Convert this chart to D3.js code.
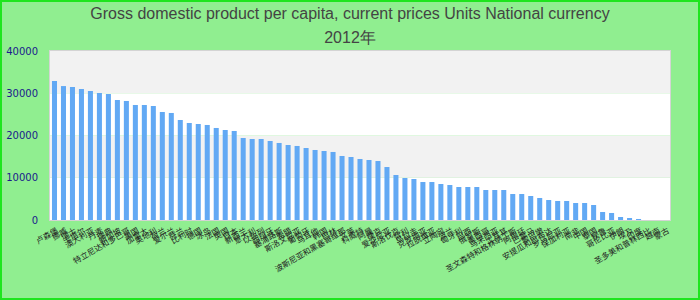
<!DOCTYPE html>
<html>
<head>
<meta charset="utf-8">
<script src="https://cdn.jsdelivr.net/npm/d3@7"></script>
<style>
  body { margin: 0; background: #fff; }
  svg { display: block; }
</style>
</head>
<body>
<div id="chart"></div>
<script>
(function () {
	'use strict';

	var titleLines = ["Gross domestic product per capita, current prices Units National currency", "2012年"];

	var categories = [
		"卢森堡", "挪威", "瑞士", "卡塔尔", "澳大利亚", "丹麦", "瑞典", "新加坡", "特立尼达和多巴哥", "美国",
		"加拿大", "奥地利", "荷兰", "爱尔兰", "芬兰", "比利时", "德国", "冰岛", "法国", "英国",
		"日本", "新西兰", "意大利", "以色列", "西班牙", "塞浦路斯", "希腊", "斯洛文尼亚", "葡萄牙", "马耳他",
		"韩国", "巴林", "波斯尼亚和黑塞哥维那", "文莱", "科威特", "阿曼", "捷克", "爱沙尼亚", "斯洛伐克", "智利",
		"乌拉圭", "克罗地亚", "拉脱维亚", "立陶宛", "波兰", "匈牙利", "巴西", "俄罗斯", "墨西哥", "马来西亚",
		"土耳其", "圣文森特和格林纳丁斯", "阿根廷", "巴拿马", "黎巴嫩", "安提瓜和巴布达", "罗马尼亚", "保加利亚", "南非", "中国",
		"泰国", "秘鲁", "哥伦比亚", "伊朗", "埃及", "印度", "圣多美和普林西比", "越南", "蒙古"
	];

	var values = [
		32900, 31700, 31480, 31000, 30530, 30060, 29820, 28400, 28170, 27220,
		27220, 26980, 25560, 25330, 23670, 22960, 22720, 22490, 21780, 21300,
		21070, 19410, 19170, 19170, 18700, 18230, 17750, 17520, 17040, 16570,
		16330, 16100, 15150, 14910, 14440, 14200, 13960, 12540, 10650, 9940,
		9700, 8990, 8990, 8520, 8280, 7810, 7810, 7810, 7100, 7100,
		7100, 6150, 6150, 5680, 5210, 4730, 4500, 4500, 4020, 4020,
		3550, 1890, 1660, 710, 470, 240, 0, 0, 0
	];

	var yTicks = [0, 10000, 20000, 30000, 40000];

	var width = 700, height = 300;
	var margin = {top: 51, right: 30, bottom: 80, left: 50};

	var svg = d3.select("#chart")
		.append("svg")
		.attr("width", width)
		.attr("height", height);

	// page background + border
	svg.append("rect")
		.attr("x", 1).attr("y", 1)
		.attr("width", width - 2).attr("height", height - 2)
		.attr("fill", "#90ee90")
		.attr("stroke", "#1ee51e")
		.attr("stroke-width", 2);

	var data = categories.map(function(c, i){ return {name: c, value: values[i]}; });

	var x = d3.scaleBand()
		.domain(categories)
		.range([margin.left, width - margin.right])
		.paddingInner(0.44)
		.paddingOuter(0.22);

	var y = d3.scaleLinear()
		.domain([0, 40000])
		.range([height - margin.bottom, margin.top]);

	// alternating bands
	var bands = d3.pairs(yTicks);
	svg.append("g").selectAll("rect")
		.data(bands)
		.enter()
			.append("rect")
			.attr("x", margin.left)
			.attr("width", width - margin.right - margin.left)
			.attr("y", function(d){ return y(d[1]); })
			.attr("height", function(d){ return y(d[0]) - y(d[1]); })
			.attr("fill", function(d, i){ return i % 2 === 0 ? "#ffffff" : "#f2f2f2"; });

	// plot frame
	svg.append("rect")
		.attr("x", margin.left - 0.5)
		.attr("y", margin.top - 0.5)
		.attr("width", width - margin.right - margin.left + 1)
		.attr("height", height - margin.bottom - margin.top + 1)
		.attr("fill", "none")
		.attr("stroke", "#d4d4d4")
		.attr("stroke-width", 1);

	// bars
	svg.append("g").selectAll("rect")
		.data(data)
		.enter()
			.append("rect")
			.attr("x", function(d){ return x(d.name); })
			.attr("width", x.bandwidth())
			.attr("y", function(d){ return y(d.value); })
			.attr("height", function(d){ return y(0) - y(d.value); })
			.attr("fill", "#62a9f4");

	// y axis
	var yAxis = svg.append("g")
		.attr("transform", "translate(" + margin.left + ",0)")
		.call(d3.axisLeft(y).tickValues(yTicks).tickSize(0).tickPadding(12).tickFormat(d3.format("d")));
	yAxis.select(".domain").remove();
	yAxis.selectAll("text")
		.attr("fill", "#1a1a8c")
		.style("font-family", "DejaVu Sans")
		.style("font-size", "10px");

	// x labels, rotated
	svg.append("g").selectAll("text")
		.data(data)
		.enter()
			.append("text")
			.attr("transform", function(d){
				return "translate(" + (x(d.name) + x.bandwidth() / 2 + 2) + "," + (height - margin.bottom + 8) + ") rotate(-30)";
			})
			.attr("dy", "0.6em")
			.attr("text-anchor", "end")
			.attr("fill", "#222")
			.style("font-family", "'Noto Sans CJK SC'")
			.style("font-size", "8px")
			.text(function(d){ return d.name; });

	// title
	svg.append("g").selectAll("text")
		.data(titleLines)
		.enter()
			.append("text")
			.attr("x", width / 2)
			.attr("y", function(d, i){ return 19 + i * 24; })
			.attr("text-anchor", "middle")
			.attr("fill", "#444")
			.style("font-family", "'Liberation Sans', Arial, sans-serif")
			.style("font-size", "16px")
			.text(function(d){ return d; });
}());
</script>
</body>
</html>
